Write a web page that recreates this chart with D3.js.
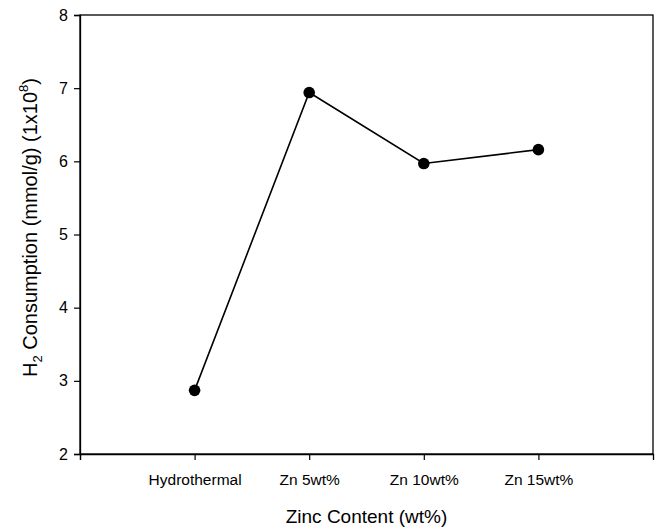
<!DOCTYPE html>
<html>
<head>
<meta charset="utf-8">
<script src="https://cdn.jsdelivr.net/npm/d3@7"></script>
<style>
  body { margin: 0; background: #fff; }
  svg { display: block; font-family: "Liberation Sans", Arial, sans-serif; }
</style>
</head>
<body>
<svg id="chart" width="661" height="528"></svg>
<script>
// H2 consumption by zinc content
const categories = ["Hydrothermal", "Zn 5wt%", "Zn 10wt%", "Zn 15wt%"];
const consumption = [2.87, 6.94, 5.97, 6.16];
const yTicks = [2, 3, 4, 5, 6, 7, 8];

const svg = d3.select("#chart");
const plotLeft = 80, plotRight = 653, plotTop = 15, plotBottom = 454;

// categories sit at positions 1..4 on a 0..5 axis
const x = d3.scaleLinear().domain([0, 5]).range([plotLeft, plotRight]);
const y = d3.scaleLinear().domain([2, 8]).range([plotBottom, plotTop]);

// frame
svg.append("rect")
  .attr("x", plotLeft).attr("y", plotTop)
  .attr("width", plotRight - plotLeft).attr("height", plotBottom - plotTop)
  .attr("fill", "none").attr("stroke", "#000").attr("stroke-width", 1.3);

// y axis
const yAxis = svg.append("g")
  .attr("transform", `translate(${plotLeft},0)`)
  .call(d3.axisLeft(y).tickValues(yTicks).tickFormat(d3.format("d")).tickSize(6).tickPadding(6));
yAxis.select(".domain").attr("stroke-width", 1.3);
yAxis.selectAll(".tick line").attr("stroke-width", 1.2);
yAxis.selectAll("text").attr("font-size", 16).attr("fill", "#000")
  .attr("font-family", "'Liberation Sans', Arial, sans-serif");

// x axis
const xAxis = svg.append("g")
  .attr("transform", `translate(0,${plotBottom})`)
  .call(d3.axisBottom(x).tickValues([0, 1, 2, 3, 4])
    .tickFormat(d => d === 0 ? "" : categories[d - 1]).tickSize(6).tickPadding(14));
xAxis.select(".domain").attr("stroke-width", 1.3);
xAxis.selectAll(".tick line").attr("stroke-width", 1.2);
xAxis.selectAll("text").attr("font-size", 15.5).attr("fill", "#000")
  .attr("font-family", "'Liberation Sans', Arial, sans-serif");

// line
const line = d3.line()
  .x((d, i) => x(i + 1))
  .y(d => y(d));
svg.append("path")
  .datum(consumption)
  .attr("d", line)
  .attr("fill", "none")
  .attr("stroke", "#000")
  .attr("stroke-width", 1.6);

// markers
svg.selectAll("circle.pt")
  .data(consumption)
  .join("circle")
  .attr("class", "pt")
  .attr("cx", (d, i) => x(i + 1))
  .attr("cy", d => y(d))
  .attr("r", 5.8)
  .attr("fill", "#000");

// x title
svg.append("text")
  .attr("x", (plotLeft + plotRight) / 2)
  .attr("y", 523)
  .attr("text-anchor", "middle")
  .attr("font-size", 19)
  .text("Zinc Content (wt%)");

// y title with subscript and superscript
const yt = svg.append("text")
  .attr("transform", `translate(37,${(plotTop + plotBottom) / 2 - 7}) rotate(-90)`)
  .attr("text-anchor", "middle")
  .attr("font-size", 20);
yt.append("tspan").text("H");
yt.append("tspan").attr("font-size", 13).attr("dy", 5).text("2");
yt.append("tspan").attr("dy", -5).text(" Consumption (mmol/g) (1x10");
yt.append("tspan").attr("font-size", 13).attr("dy", -9).text("8");
yt.append("tspan").attr("dy", 9).text(")");
</script>
</body>
</html>
